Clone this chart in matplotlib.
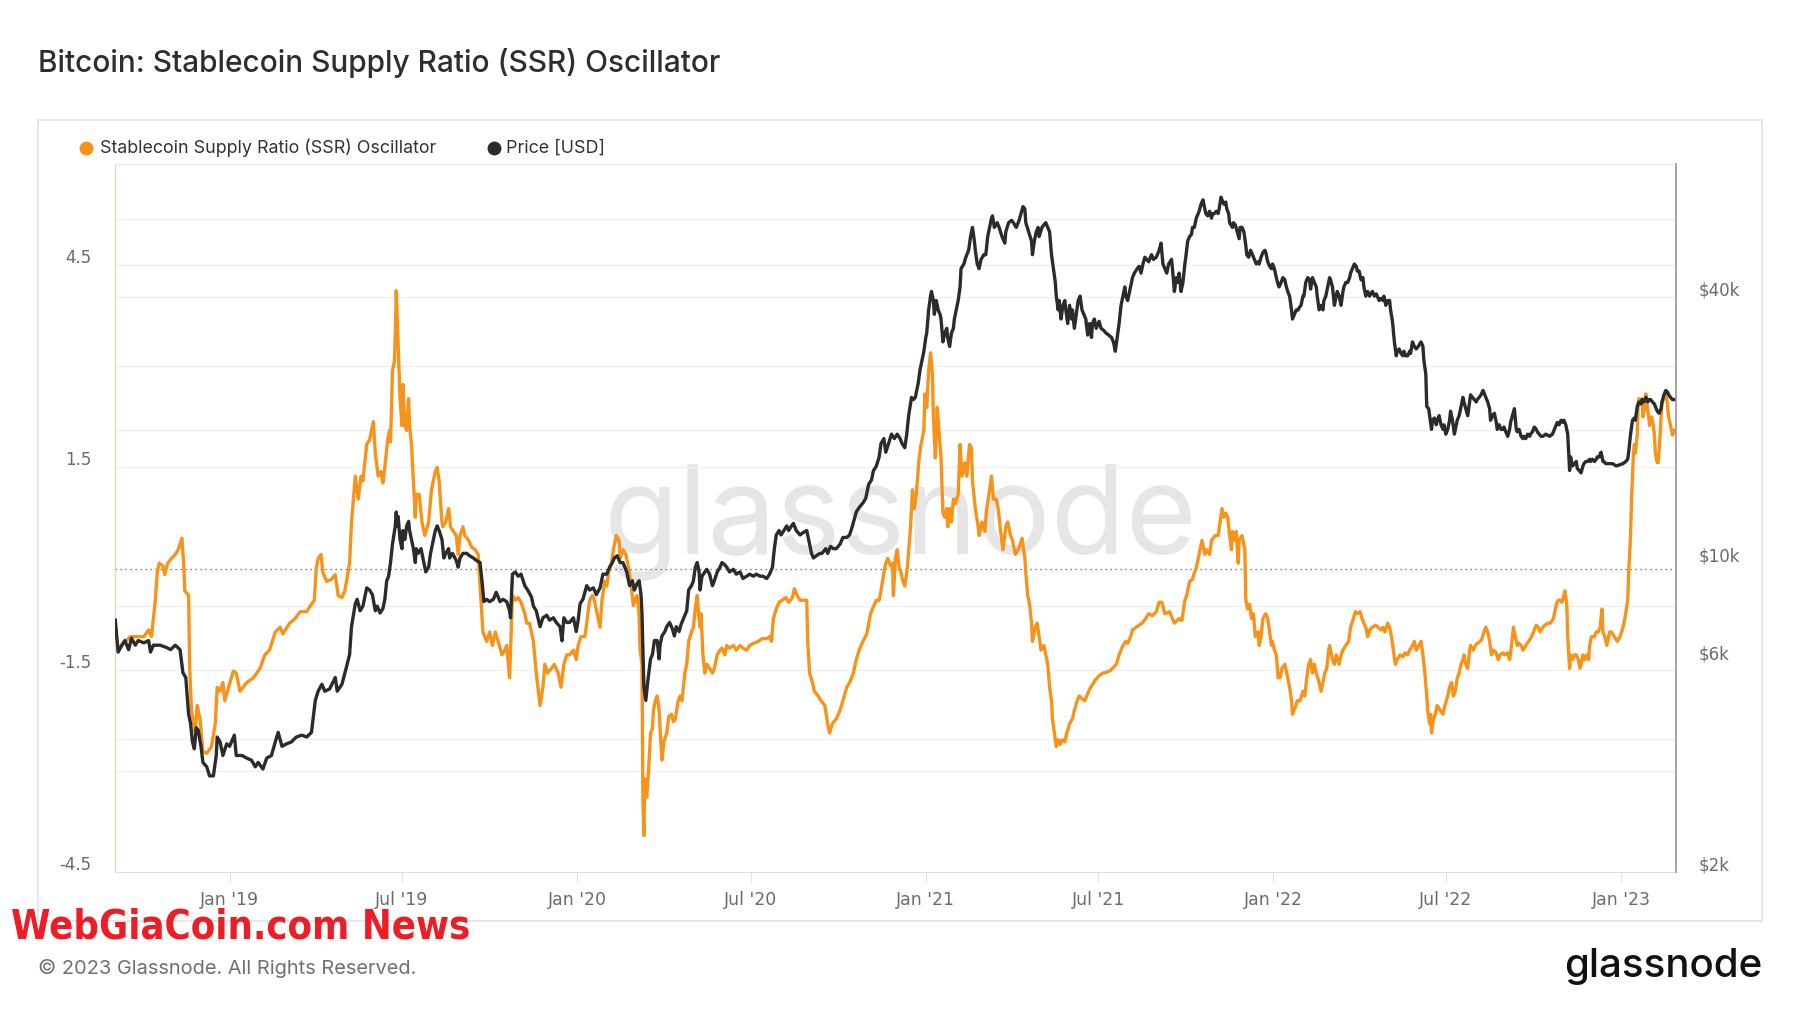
import numpy as np
import matplotlib
matplotlib.use("Agg")
import matplotlib.pyplot as plt
import matplotlib.dates as mdates
import matplotlib.transforms as mtransforms
from matplotlib import font_manager as fm
from matplotlib.lines import Line2D
from matplotlib.patches import Rectangle
from matplotlib.ticker import NullLocator

# ---- data (days counted from 2019-01-01) ----
base_date = np.datetime64("2019-01-01")

ssr_days = [
    -120, -115, -104, -90, -85, -82, -78, -76, -74, -70,
    -68, -65, -61, -57, -54, -50, -48, -47, -43, -42,
    -40, -36, -34, -31, -28, -24, -19, -15, -13, -10,
    -7, -5, -1, 4, 7, 11, 18, 25, 32, 37,
    42, 48, 53, 56, 63, 69, 74, 81, 84, 89,
    91, 93, 96, 98, 102, 107, 111, 114, 118, 121,
    124, 126, 128, 132, 135, 138, 140, 144, 147, 151,
    153, 156, 159, 161, 163, 166, 168, 169, 171, 173,
    174, 175, 177, 179, 181, 182, 184, 186, 188, 189,
    191, 193, 195, 196, 199, 202, 205, 209, 212, 216,
    218, 220, 223, 224, 227, 230, 232, 235, 238, 240,
    242, 245, 247, 251, 254, 258, 261, 263, 266, 268,
    270, 273, 276, 279, 282, 286, 289, 291, 294, 297,
    300, 303, 306, 310, 312, 315, 319, 322, 326, 329,
    331, 334, 338, 341, 345, 348, 351, 354, 357, 361,
    364, 366, 369, 373, 375, 378, 381, 383, 386, 389,
    391, 394, 396, 398, 401, 403, 406, 409, 410, 413,
    416, 418, 420, 422, 424, 426, 428, 430, 431, 433,
    434, 435, 436, 438, 440, 442, 444, 445, 447, 449,
    451, 452, 454, 456, 459, 461, 464, 466, 468, 471,
    473, 475, 478, 480, 482, 485, 487, 489, 491, 492,
    494, 495, 497, 499, 501, 504, 507, 509, 512, 515,
    517, 520, 522, 525, 529, 532, 536, 539, 543, 546,
    550, 555, 559, 564, 567, 569, 571, 574, 577, 580,
    584, 587, 591, 593, 596, 599, 602, 606, 607, 609,
    612, 614, 618, 621, 625, 628, 630, 633, 637, 641,
    644, 648, 651, 655, 658, 661, 665, 669, 673, 675,
    679, 682, 684, 687, 689, 691, 694, 696, 697, 699,
    701, 703, 705, 707, 709, 711, 712, 715, 717, 719,
    721, 724, 726, 729, 730, 732, 734, 736, 738, 739,
    741, 742, 743, 746, 747, 749, 751, 753, 754, 756,
    758, 760, 762, 765, 767, 769, 772, 774, 777, 779,
    780, 783, 786, 787, 790, 793, 795, 798, 800, 802,
    805, 807, 809, 812, 815, 817, 820, 822, 825, 828,
    830, 832, 835, 836, 838, 840, 842, 843, 846, 848,
    850, 852, 855, 857, 859, 861, 863, 864, 866, 868,
    870, 872, 874, 877, 879, 882, 885, 887, 890, 892,
    895, 898, 900, 903, 906, 909, 913, 917, 920, 924,
    927, 931, 934, 938, 941, 943, 946, 948, 952, 955,
    958, 962, 965, 969, 973, 976, 979, 982, 987, 992,
    997, 1000, 1003, 1005, 1008, 1011, 1013, 1015, 1017, 1019,
    1021, 1024, 1026, 1029, 1031, 1035, 1038, 1040, 1042, 1044,
    1046, 1048, 1050, 1052, 1053, 1055, 1057, 1059, 1060, 1063,
    1066, 1067, 1069, 1071, 1073, 1075, 1077, 1080, 1081, 1083,
    1085, 1088, 1090, 1092, 1094, 1095, 1097, 1099, 1101, 1103,
    1105, 1108, 1110, 1113, 1115, 1116, 1119, 1121, 1124, 1127,
    1129, 1131, 1133, 1135, 1137, 1139, 1141, 1144, 1146, 1148,
    1150, 1152, 1154, 1155, 1158, 1160, 1162, 1165, 1167, 1169,
    1172, 1175, 1177, 1180, 1182, 1184, 1187, 1189, 1191, 1193,
    1195, 1197, 1200, 1203, 1206, 1209, 1211, 1213, 1216, 1218,
    1220, 1222, 1224, 1226, 1229, 1232, 1234, 1237, 1239, 1242,
    1244, 1246, 1249, 1251, 1253, 1255, 1257, 1258, 1260, 1261,
    1262, 1264, 1266, 1268, 1271, 1274, 1276, 1279, 1281, 1283,
    1285, 1287, 1289, 1291, 1293, 1295, 1296, 1298, 1300, 1302,
    1303, 1306, 1308, 1310, 1313, 1315, 1317, 1319, 1321, 1323,
    1325, 1327, 1330, 1332, 1334, 1337, 1339, 1342, 1344, 1346,
    1347, 1348, 1350, 1352, 1354, 1356, 1358, 1361, 1364, 1367,
    1369, 1372, 1374, 1376, 1379, 1381, 1384, 1387, 1390, 1393,
    1395, 1397, 1399, 1401, 1402, 1404, 1405, 1407, 1408, 1410,
    1412, 1414, 1416, 1418, 1421, 1423, 1425, 1427, 1428, 1430,
    1433, 1435, 1437, 1439, 1441, 1442, 1444, 1446, 1449, 1451,
    1454, 1457, 1460, 1463, 1465, 1468, 1469, 1471, 1472, 1474,
    1475, 1476, 1478, 1479, 1480, 1481, 1483, 1484, 1486, 1487,
    1488, 1490, 1491, 1493, 1495, 1496, 1497, 1499, 1500, 1502,
    1503, 1504, 1506, 1507, 1509, 1510, 1511, 1513, 1515, 1517,
]
ssr_values = [
    -1.18, -1.15, -1.01, -1.01, -0.91, -1.01, -0.47, -0.06, 0.08, 0.04,
    -0.09, 0.08, 0.15, 0.21, 0.28, 0.45, 0.01, -0.33, -0.40, -1.42,
    -2.10, -2.44, -2.03, -2.23, -2.71, -2.74, -2.64, -2.30, -1.76, -1.82,
    -1.69, -1.96, -1.76, -1.52, -1.55, -1.82, -1.69, -1.62, -1.48, -1.28,
    -1.21, -0.94, -0.87, -0.97, -0.81, -0.74, -0.64, -0.64, -0.57, -0.47,
    0.01, 0.15, 0.21, -0.06, -0.19, -0.16, -0.09, -0.40, -0.43, -0.33,
    -0.09, 0.08, 0.69, 1.37, 1.03, 1.37, 1.30, 1.84, 1.91, 2.18,
    1.71, 1.37, 1.44, 1.27, 1.50, 1.91, 2.05, 1.88, 2.93, 3.07,
    3.47, 4.12, 3.34, 2.52, 2.12, 2.73, 2.12, 2.05, 2.52, 2.12,
    1.84, 1.30, 0.76, 1.10, 1.10, 0.69, 0.49, 0.69, 1.17, 1.44,
    1.50, 1.30, 0.69, 0.62, 0.69, 0.89, 0.62, 0.55, 0.49, 0.21,
    0.49, 0.62, 0.49, 0.42, 0.32, 0.28, 0.21, -0.26, -0.94, -1.01,
    -1.08, -0.94, -1.14, -0.94, -1.08, -1.28, -1.21, -1.14, -1.62, -0.40,
    -0.47, -0.43, -0.50, -0.67, -0.81, -0.81, -1.08, -1.55, -2.03, -1.76,
    -1.42, -1.55, -1.48, -1.42, -1.55, -1.76, -1.42, -1.28, -1.28, -1.21,
    -1.35, -1.14, -1.01, -1.01, -0.81, -0.47, -0.40, -0.47, -0.67, -0.87,
    -0.47, -0.19, -0.26, -0.06, 0.08, 0.28, 0.49, 0.42, 0.15, 0.28,
    0.21, 0.08, -0.10, -0.30, -0.55, -0.45, -0.40, -0.70, -1.21, -1.42,
    -3.45, -3.96, -3.12, -3.39, -2.98, -2.44, -2.37, -2.10, -1.96, -1.89,
    -2.10, -2.37, -2.84, -2.57, -2.44, -2.20, -2.16, -2.27, -2.23, -1.96,
    -1.89, -1.96, -1.55, -1.42, -1.08, -0.94, -0.87, -0.60, -0.40, -0.60,
    -0.87, -0.67, -1.28, -1.55, -1.42, -1.48, -1.55, -1.48, -1.28, -1.21,
    -1.18, -1.28, -1.14, -1.18, -1.14, -1.21, -1.14, -1.18, -1.21, -1.14,
    -1.11, -1.08, -1.04, -1.04, -1.01, -1.08, -0.74, -0.60, -0.50, -0.47,
    -0.43, -0.50, -0.43, -0.30, -0.40, -0.47, -0.47, -0.47, -1.08, -1.55,
    -1.69, -1.82, -1.89, -1.96, -2.03, -2.30, -2.44, -2.30, -2.23, -2.10,
    -1.96, -1.76, -1.69, -1.55, -1.35, -1.21, -1.08, -0.97, -0.67, -0.60,
    -0.47, -0.47, -0.33, -0.06, 0.08, 0.15, 0.04, 0.08, -0.40, 0.15,
    0.28, 0.01, -0.06, -0.19, -0.26, -0.06, 0.08, 0.62, 1.17, 0.89,
    1.10, 1.64, 1.84, 2.05, 2.59, 2.39, 2.93, 3.20, 2.86, 2.25,
    1.64, 1.98, 2.39, 1.84, 1.64, 0.83, 0.76, 0.89, 0.62, 0.89,
    0.69, 1.03, 0.96, 1.10, 1.84, 1.37, 1.57, 1.37, 1.84, 1.78,
    1.30, 0.89, 0.62, 0.49, 0.69, 0.55, 0.89, 1.17, 1.37, 1.03,
    1.03, 0.89, 0.62, 0.28, 0.62, 0.69, 0.49, 0.42, 0.21, 0.28,
    0.35, 0.45, 0.15, -0.06, -0.40, -0.53, -0.81, -1.08, -0.87, -0.81,
    -1.01, -1.21, -1.14, -1.28, -1.42, -1.76, -1.96, -2.23, -2.44, -2.64,
    -2.54, -2.61, -2.54, -2.57, -2.44, -2.30, -2.23, -2.10, -1.96, -1.89,
    -1.93, -1.96, -1.89, -1.79, -1.72, -1.65, -1.59, -1.55, -1.54, -1.52,
    -1.48, -1.42, -1.28, -1.14, -1.08, -1.11, -1.01, -0.91, -0.87, -0.84,
    -0.81, -0.74, -0.67, -0.70, -0.64, -0.50, -0.50, -0.67, -0.64, -0.81,
    -0.74, -0.77, -0.47, -0.40, -0.19, -0.16, -0.06, 0.01, 0.15, 0.28,
    0.42, 0.21, 0.28, 0.21, 0.42, 0.49, 0.49, 0.69, 0.89, 0.76,
    0.82, 0.76, 0.49, 0.28, 0.55, 0.42, 0.55, 0.08, 0.42, 0.49,
    0.28, -0.47, -0.60, -0.53, -0.74, -0.67, -1.01, -0.94, -1.14, -1.01,
    -0.74, -0.67, -0.74, -0.94, -1.14, -1.08, -1.21, -1.28, -1.62, -1.62,
    -1.48, -1.42, -1.55, -1.76, -1.96, -2.16, -2.06, -1.96, -1.96, -1.82,
    -1.89, -1.62, -1.42, -1.35, -1.55, -1.42, -1.55, -1.69, -1.82, -1.69,
    -1.55, -1.48, -1.21, -1.14, -1.35, -1.42, -1.28, -1.42, -1.28, -1.21,
    -1.14, -1.08, -0.87, -0.74, -0.64, -0.67, -0.64, -0.74, -0.81, -0.87,
    -1.01, -0.91, -0.87, -0.84, -0.87, -0.91, -0.87, -0.94, -0.81, -0.87,
    -1.01, -1.21, -1.42, -1.35, -1.28, -1.31, -1.25, -1.28, -1.21, -1.14,
    -1.08, -1.21, -1.14, -1.08, -1.28, -1.55, -1.89, -2.10, -2.30, -2.16,
    -2.44, -2.23, -2.16, -2.03, -2.10, -2.16, -2.03, -1.89, -1.76, -1.69,
    -1.89, -1.82, -1.62, -1.55, -1.42, -1.35, -1.28, -1.42, -1.48, -1.21,
    -1.14, -1.21, -1.14, -1.11, -1.08, -1.04, -0.94, -0.87, -0.94, -1.08,
    -1.28, -1.21, -1.25, -1.35, -1.28, -1.25, -1.28, -1.25, -1.35, -1.14,
    -1.01, -0.87, -1.01, -1.14, -1.11, -1.14, -1.21, -1.14, -1.08, -1.01,
    -0.94, -0.84, -0.87, -0.94, -0.87, -0.84, -0.81, -0.81, -0.74, -0.53,
    -0.47, -0.47, -0.50, -0.40, -0.33, -0.53, -1.01, -1.48, -1.28, -1.35,
    -1.28, -1.28, -1.35, -1.48, -1.28, -1.35, -1.28, -1.35, -1.14, -1.01,
    -1.01, -0.94, -0.94, -0.87, -0.60, -0.94, -1.01, -1.14, -0.94, -0.94,
    -1.01, -1.08, -1.01, -0.87, -0.74, -0.47, -0.06, 0.49, 1.03, 1.71,
    1.84, 1.71, 1.98, 2.46, 2.52, 2.46, 2.52, 2.25, 2.39, 2.59,
    2.46, 2.25, 2.12, 2.25, 2.12, 1.98, 1.71, 1.57, 1.57, 1.98,
    2.25, 2.46, 2.52, 2.59, 2.52, 2.39, 2.25, 2.12, 1.98, 2.05,
]

price_days = [
    -120, -117, -113, -110, -106, -103, -99, -96, -90, -85,
    -83, -80, -73, -66, -62, -57, -52, -49, -46, -43,
    -41, -39, -37, -35, -33, -30, -28, -24, -21, -17,
    -14, -13, -10, -7, -3, 0, 5, 7, 13, 18,
    23, 27, 30, 35, 39, 44, 48, 51, 55, 60,
    65, 70, 76, 81, 86, 90, 93, 97, 100, 105,
    111, 113, 118, 123, 126, 128, 132, 134, 137, 140,
    144, 147, 150, 153, 155, 158, 161, 163, 165, 167,
    169, 171, 174, 175, 176, 177, 179, 181, 182, 184,
    186, 188, 189, 191, 193, 195, 196, 198, 201, 203,
    206, 209, 211, 214, 216, 218, 220, 223, 225, 227,
    230, 231, 234, 238, 240, 242, 245, 249, 252, 256,
    259, 263, 265, 267, 270, 273, 277, 280, 284, 287,
    291, 294, 295, 297, 300, 303, 306, 310, 313, 317,
    319, 322, 326, 329, 333, 336, 340, 343, 347, 349,
    351, 354, 357, 361, 364, 366, 368, 371, 375, 378,
    382, 385, 389, 392, 396, 399, 402, 404, 407, 410,
    413, 417, 420, 423, 425, 428, 430, 432, 433, 435,
    437, 439, 442, 444, 446, 449, 451, 452, 454, 457,
    459, 462, 465, 467, 469, 472, 474, 477, 480, 482,
    485, 487, 489, 491, 493, 494, 496, 499, 501, 504,
    507, 509, 512, 515, 517, 520, 522, 525, 529, 532,
    536, 539, 543, 546, 550, 553, 557, 560, 564, 567,
    570, 572, 574, 577, 579, 582, 585, 587, 590, 592,
    595, 599, 602, 606, 608, 611, 613, 616, 620, 622,
    626, 628, 631, 634, 637, 641, 644, 648, 651, 654,
    658, 661, 665, 668, 671, 674, 676, 679, 682, 684,
    687, 689, 692, 695, 698, 701, 704, 706, 709, 711,
    713, 716, 718, 720, 723, 725, 727, 729, 731, 732,
    734, 736, 737, 739, 740, 742, 744, 746, 747, 749,
    751, 753, 754, 756, 758, 760, 761, 763, 765, 767,
    768, 771, 773, 776, 778, 780, 782, 783, 785, 787,
    789, 792, 794, 796, 798, 800, 801, 803, 806, 808,
    811, 814, 815, 818, 821, 823, 826, 829, 831, 833,
    835, 836, 839, 842, 843, 845, 847, 849, 850, 853,
    855, 857, 859, 861, 863, 865, 867, 868, 870, 871,
    873, 875, 877, 878, 880, 882, 884, 885, 887, 889,
    891, 893, 895, 897, 899, 901, 903, 905, 906, 908,
    910, 913, 915, 918, 920, 923, 926, 928, 930, 932,
    934, 936, 938, 940, 941, 943, 946, 948, 950, 953,
    955, 957, 959, 961, 963, 965, 968, 970, 973, 976,
    978, 980, 982, 984, 986, 989, 990, 992, 994, 996,
    997, 999, 1001, 1003, 1004, 1006, 1008, 1010, 1011, 1013,
    1015, 1017, 1018, 1020, 1022, 1024, 1025, 1027, 1029, 1031,
    1032, 1034, 1036, 1038, 1039, 1041, 1042, 1044, 1046, 1047,
    1049, 1050, 1053, 1054, 1056, 1058, 1060, 1061, 1063, 1065,
    1067, 1068, 1070, 1072, 1074, 1076, 1078, 1080, 1081, 1083,
    1085, 1087, 1088, 1090, 1092, 1094, 1095, 1097, 1099, 1101,
    1102, 1104, 1106, 1108, 1109, 1111, 1113, 1115, 1116, 1118,
    1120, 1122, 1123, 1125, 1127, 1128, 1130, 1132, 1134, 1135,
    1137, 1139, 1141, 1142, 1144, 1146, 1148, 1149, 1151, 1153,
    1155, 1156, 1158, 1160, 1162, 1163, 1165, 1167, 1169, 1170,
    1172, 1174, 1176, 1177, 1179, 1181, 1183, 1184, 1186, 1188,
    1190, 1191, 1193, 1195, 1197, 1198, 1200, 1202, 1204, 1205,
    1207, 1209, 1211, 1212, 1214, 1216, 1218, 1219, 1221, 1223,
    1225, 1226, 1228, 1230, 1232, 1233, 1235, 1237, 1239, 1240,
    1242, 1244, 1246, 1248, 1251, 1253, 1254, 1256, 1257, 1259,
    1260, 1262, 1263, 1265, 1267, 1268, 1270, 1272, 1274, 1275,
    1277, 1279, 1281, 1282, 1284, 1286, 1288, 1289, 1291, 1293,
    1295, 1296, 1298, 1300, 1302, 1303, 1305, 1307, 1309, 1310,
    1312, 1314, 1316, 1317, 1319, 1321, 1323, 1324, 1326, 1328,
    1330, 1331, 1333, 1335, 1337, 1338, 1340, 1342, 1344, 1345,
    1347, 1349, 1351, 1352, 1354, 1356, 1358, 1359, 1361, 1363,
    1365, 1366, 1368, 1370, 1372, 1373, 1375, 1377, 1379, 1382,
    1386, 1389, 1391, 1393, 1394, 1396, 1398, 1400, 1401, 1403,
    1405, 1406, 1407, 1408, 1410, 1412, 1414, 1415, 1417, 1419,
    1421, 1422, 1424, 1426, 1428, 1429, 1431, 1433, 1435, 1436,
    1438, 1440, 1442, 1443, 1445, 1449, 1452, 1456, 1459, 1463,
    1466, 1468, 1469, 1471, 1473, 1475, 1476, 1478, 1480, 1482,
    1483, 1485, 1487, 1489, 1490, 1492, 1494, 1496, 1497, 1499,
    1501, 1503, 1504, 1506, 1508, 1510, 1511, 1513, 1515, 1517,
]
price_usd = [
    7430, 6290, 6520, 6680, 6370, 6760, 6520, 6680, 6600, 6680,
    6290, 6520, 6520, 6440, 6370, 6520, 6370, 5650, 5510, 4550,
    4340, 3940, 3800, 4240, 4190, 3850, 3540, 3460, 3300, 3300,
    3670, 4040, 3940, 3670, 3900, 3850, 4080, 3670, 3670, 3620,
    3580, 3460, 3540, 3420, 3620, 3670, 3940, 4140, 3850, 3900,
    3940, 4040, 4080, 4040, 4140, 4890, 5130, 5320, 5130, 5190,
    5510, 5130, 5320, 5850, 6210, 7180, 8090, 8280, 7800, 7990,
    8790, 8690, 8480, 7800, 7990, 7710, 7890, 8280, 9120, 9340,
    10030, 11030, 12140, 13050, 12140, 12740, 11310, 10780, 11850, 11310,
    12140, 12430, 11850, 11310, 10780, 10030, 10780, 10520, 10780, 10270,
    9550, 9790, 10520, 11310, 11850, 12140, 11850, 11310, 10270, 10520,
    10780, 10270, 10520, 10140, 9790, 10270, 10520, 10520, 10390, 10270,
    10140, 10030, 9120, 8180, 8280, 8180, 8280, 8590, 8180, 8280,
    8180, 7800, 7520, 9440, 9550, 9340, 9440, 8890, 8690, 8380,
    7990, 7800, 7180, 7520, 7620, 7430, 7520, 7340, 7180, 6670,
    7520, 7340, 7340, 7520, 7000, 7430, 8090, 8280, 8890, 8690,
    8790, 8480, 8790, 9440, 9440, 9790, 10030, 10270, 10390, 10030,
    10030, 9550, 8890, 9120, 8690, 9000, 9120, 8480, 7710, 5260,
    4890, 5380, 6070, 6210, 6680, 6680, 6070, 6520, 6840, 7000,
    7180, 7340, 7090, 6840, 7180, 7000, 7260, 7520, 7800, 8690,
    8890, 9120, 9790, 10030, 9550, 8690, 9340, 9550, 9680, 9440,
    8890, 9120, 9550, 9790, 10030, 9910, 9790, 9550, 9680, 9440,
    9550, 9230, 9340, 9440, 9340, 9440, 9340, 9340, 9230, 9440,
    9790, 10780, 11580, 11850, 11580, 11850, 12140, 11850, 12140, 12300,
    11850, 11580, 11720, 11850, 11310, 10520, 10270, 10390, 10520, 10520,
    10780, 10520, 10910, 10780, 10780, 11040, 11430, 11430, 11580, 12140,
    13050, 13360, 13680, 14020, 15070, 15420, 16180, 16560, 17370, 18660,
    19130, 17820, 18660, 19580, 19130, 19580, 19130, 18660, 18240, 19580,
    21560, 23710, 23440, 23710, 25510, 27390, 28750, 30150, 32410, 33190,
    37410, 40190, 41180, 39280, 36550, 39280, 37410, 36550, 35670, 31660,
    33190, 33980, 32410, 30910, 33190, 33980, 35670, 37410, 39280, 42170,
    46380, 47510, 49210, 51030, 54820, 57490, 53590, 51030, 47510, 46380,
    48660, 49880, 49880, 54820, 57490, 60330, 61050, 57490, 58930, 57490,
    54820, 52970, 56190, 58930, 59640, 58930, 57490, 59640, 61800, 64070,
    63330, 58930, 56190, 53590, 49880, 53590, 56190, 57490, 54820, 57490,
    58250, 58930, 57490, 56190, 49880, 46380, 43160, 40190, 37410, 39280,
    35670, 38310, 39280, 37410, 34840, 38310, 35670, 37410, 33980, 36550,
    39280, 40190, 37410, 36550, 35670, 32810, 34840, 32410, 34840, 35670,
    33980, 35240, 33980, 33590, 33190, 32810, 32410, 31660, 30150, 32410,
    34840, 38310, 40190, 42170, 40190, 39280, 42170, 44260, 45310, 46380,
    46960, 45310, 47510, 49210, 48660, 48080, 49880, 48660, 49210, 51030,
    52970, 47510, 46380, 45310, 47510, 48660, 46380, 41180, 44260, 43160,
    45310, 41180, 43160, 47510, 49210, 53590, 54820, 55470, 57490, 57490,
    60330, 61800, 62530, 64890, 66380, 63330, 61800, 61050, 62530, 60330,
    61800, 61800, 62530, 61800, 63330, 67290, 66380, 64890, 65610, 63330,
    61800, 58930, 57490, 58930, 58250, 56190, 54200, 57490, 57490, 56190,
    52360, 49880, 49210, 51030, 49880, 48660, 47510, 48080, 47510, 49210,
    50460, 51030, 50460, 48080, 46960, 46380, 47510, 46380, 44260, 42660,
    42170, 43160, 44260, 43750, 42660, 41180, 40190, 37410, 35670, 36550,
    37410, 37410, 37840, 38310, 40190, 40190, 43160, 44260, 43750, 41690,
    44260, 43160, 42170, 40190, 37410, 38310, 37410, 39280, 40190, 42170,
    44260, 43750, 42170, 38310, 40190, 41180, 40190, 38310, 41180, 42170,
    43160, 43160, 44260, 45310, 46380, 47510, 46960, 45810, 45810, 43750,
    44260, 42170, 40190, 41180, 40190, 40650, 41180, 40190, 40650, 40190,
    39280, 39720, 39280, 40190, 38310, 39280, 39280, 37410, 35240, 31660,
    29450, 30150, 30520, 29810, 29450, 30150, 29450, 29450, 30150, 29810,
    31660, 30910, 30520, 30910, 31660, 30910, 28750, 26750, 22620, 22360,
    21560, 20070, 21050, 21300, 20560, 21050, 21560, 20560, 20070, 20560,
    19580, 20070, 21050, 22070, 21050, 19580, 20560, 21050, 21560, 22620,
    23710, 23160, 22360, 21560, 23160, 24030, 23710, 23440, 23160, 23440,
    23710, 24030, 24590, 24330, 23710, 23160, 22360, 21050, 21560, 21830,
    20810, 20070, 20560, 20070, 20070, 20320, 19830, 19360, 20070, 20810,
    21560, 22360, 20070, 19830, 20070, 19360, 19130, 19360, 19130, 19580,
    19360, 19580, 19830, 20320, 20070, 19830, 19580, 19360, 19360, 19580,
    19360, 19580, 20070, 20560, 20810, 20560, 21050, 20810, 21050, 20560,
    19580, 17820, 16200, 17390, 16590, 16790, 16980, 16380, 16200, 16000,
    16590, 16790, 16980, 16980, 17180, 16980, 17180, 16980, 17180, 17390,
    17390, 17820, 16980, 16980, 16790, 16790, 16790, 16590, 16670, 16790,
    16980, 17180, 17820, 19580, 21050, 21300, 21050, 22620, 23160, 22910,
    23440, 23160, 23710, 23160, 23440, 23440, 23160, 22910, 22620, 22070,
    21830, 22360, 23160, 24030, 24590, 24330, 24030, 23710, 23440, 23440,
]

x_tick_dates = ["2019-01-01", "2019-07-01", "2020-01-01", "2020-07-01", "2021-01-01",
                "2021-07-01", "2022-01-01", "2022-07-01", "2023-01-01"]
x_tick_labels = ["Jan '19", "Jul '19", "Jan '20", "Jul '20", "Jan '21",
                 "Jul '21", "Jan '22", "Jul '22", "Jan '23"]
ssr_ticks = [-4.5, -1.5, 1.5, 4.5]
ssr_grid = [-3.0, -1.5, 1.5, 3.0, 4.5]
price_ticks = [2000, 6000, 10000, 40000]
price_tick_labels = ["$2k", "$6k", "$10k", "$40k"]
price_grid = [4000, 8000, 20000, 40000, 60000]

ORANGE = "#f7931a"
DARK = "#2b2b2b"
GREY_TXT = "#6b6b6b"


def narrow_bold_font():
    # look for a condensed / narrow bold face for the red site stamp
    prefs = ["liberationsansnarrow-bold.", "dejavusanscondensed-bold.",
             "notosans-condensedbold.", "notosans-extracondensedbold.",
             "notosans-semicondensedbold.", "robotocondensed-bold."]
    files = {f.fname.split("/")[-1].lower(): f.fname for f in fm.fontManager.ttflist}
    for p in prefs:
        for k, v in files.items():
            if k.startswith(p):
                return fm.FontProperties(fname=v)
    for k, v in files.items():
        if ("condensed" in k or "narrow" in k) and "bold" in k:
            return fm.FontProperties(fname=v)
    return fm.FontProperties(family="DejaVu Sans", weight="bold")


W, H = 1800, 1013
fig = plt.figure(figsize=(W / 100, H / 100), dpi=100)
fig.patch.set_facecolor("white")

# outer card
fig.add_artist(Rectangle((38 / W, 1 - 921 / H), (1762 - 38) / W, (921 - 120) / H,
                         transform=fig.transFigure, fill=False, edgecolor="#e3e3e3", lw=1.2))

fig.text(38 / W, 1 - 63 / H, "Bitcoin: Stablecoin Supply Ratio (SSR) Oscillator",
         family="Inter", fontsize=21.5, fontweight="medium", color="#2e2e2e",
         va="center", ha="left")

# legend
fig.add_artist(Line2D([86 / W], [1 - 148 / H], marker="o", ms=9, color=ORANGE,
                      transform=fig.transFigure))
fig.text(100 / W, 1 - 148 / H, "Stablecoin Supply Ratio (SSR) Oscillator",
         family="Inter", fontsize=12.9, color="#333333", va="center", ha="left")
fig.add_artist(Line2D([494 / W], [1 - 148 / H], marker="o", ms=9, color=DARK,
                      transform=fig.transFigure))
fig.text(506 / W, 1 - 148 / H, "Price [USD]",
         family="Inter", fontsize=12.9, color="#333333", va="center", ha="left")

ax = fig.add_axes([115 / W, 1 - 872 / H, (1676 - 115) / W, (872 - 164) / H])
ax2 = ax.twinx()

base_num = mdates.date2num(base_date)
ssr_x = base_date + np.array(ssr_days) * np.timedelta64(1, "D")
price_x = base_date + np.array(price_days) * np.timedelta64(1, "D")

# watermark
ax.text(0.503, 0.494, "glassnode", transform=ax.transAxes, family="Inter",
        fontsize=88, color="#e6e6e6", ha="center", va="center", zorder=0)

# grid lines (left scale and right scale) kept under the lines
for v in ssr_grid:
    ax.axhline(v, color="#f0f0f0", lw=1.0, zorder=0.5)
grid_tr = mtransforms.blended_transform_factory(ax.transAxes, ax2.transData)
for v in price_grid:
    ax.plot([0, 1], [v, v], transform=grid_tr, color="#f0f0f0", lw=1.0, zorder=0.5)
ax.axhline(0, color="#555555", lw=0.9, ls=(0, (1, 3)), zorder=1)

ax.plot(ssr_x, ssr_values, color=ORANGE, lw=2.4, zorder=2)
ax2.plot(price_x, price_usd, color=DARK, lw=2.4, zorder=2)

ax.set_ylim(-4.5, 6.0)
ax2.set_yscale("log")
ax2.set_ylim(2000, 80000)
ax.set_xlim(base_num - 120.3, base_num + 1518.7)

ax.set_xticks(mdates.date2num(np.array(x_tick_dates, dtype="datetime64[D]")))
ax.set_xticklabels(x_tick_labels)
ax.set_yticks(ssr_ticks)
ax.set_yticklabels([f"{v:g}" for v in ssr_ticks])
ax2.set_yticks(price_ticks)
ax2.set_yticklabels(price_tick_labels)
ax2.yaxis.set_minor_locator(NullLocator())

ax.tick_params(axis="x", length=7, color="#e2e2e2", pad=7, labelsize=12.5, labelcolor=GREY_TXT)
ax.tick_params(axis="y", length=0, pad=17, labelsize=12, labelcolor=GREY_TXT)
ax2.tick_params(axis="y", length=0, pad=16, labelsize=12, labelcolor=GREY_TXT)

# glassnode places value labels a little above their grid line
lift = mtransforms.ScaledTranslation(0, 0.09, fig.dpi_scale_trans)
for lab in ax.get_yticklabels() + ax2.get_yticklabels():
    lab.set_transform(lab.get_transform() + lift)

for s in ["left", "right", "top", "bottom"]:
    ax2.spines[s].set_visible(False)
ax.spines["left"].set_color("#f6d2a6")
ax.spines["right"].set_visible(False)
ax.spines["top"].set_color("#e6e6e6")
ax.spines["bottom"].set_color("#dddddd")
ax2.spines["right"].set_visible(True)
ax2.spines["right"].set_color("#9d9d9d")
ax2.spines["right"].set_linewidth(1.3)

# footer
stamp = fig.text(11 / W, 1 - 927 / H, "WebGiaCoin.com News", fontproperties=narrow_bold_font(),
                 fontsize=33, color="#ee1c25", va="center", ha="left")
# fit the stamp to its width in the picture (about 460 px)
renderer = fig.canvas.get_renderer()
wpx = stamp.get_window_extent(renderer).width
stamp.set_fontsize(33 * 460 / wpx)

fig.text(38 / W, 1 - 968 / H, "\u00a9 2023 Glassnode. All Rights Reserved.",
         family="Inter", fontsize=14.4, color="#707070", va="center", ha="left")
fig.text(1762 / W, 1 - 966 / H, "glassnode", family="Inter", fontsize=29, fontweight="medium",
         color="#111111", va="center", ha="right")

fig.savefig("out.png", dpi=100, facecolor="white")
